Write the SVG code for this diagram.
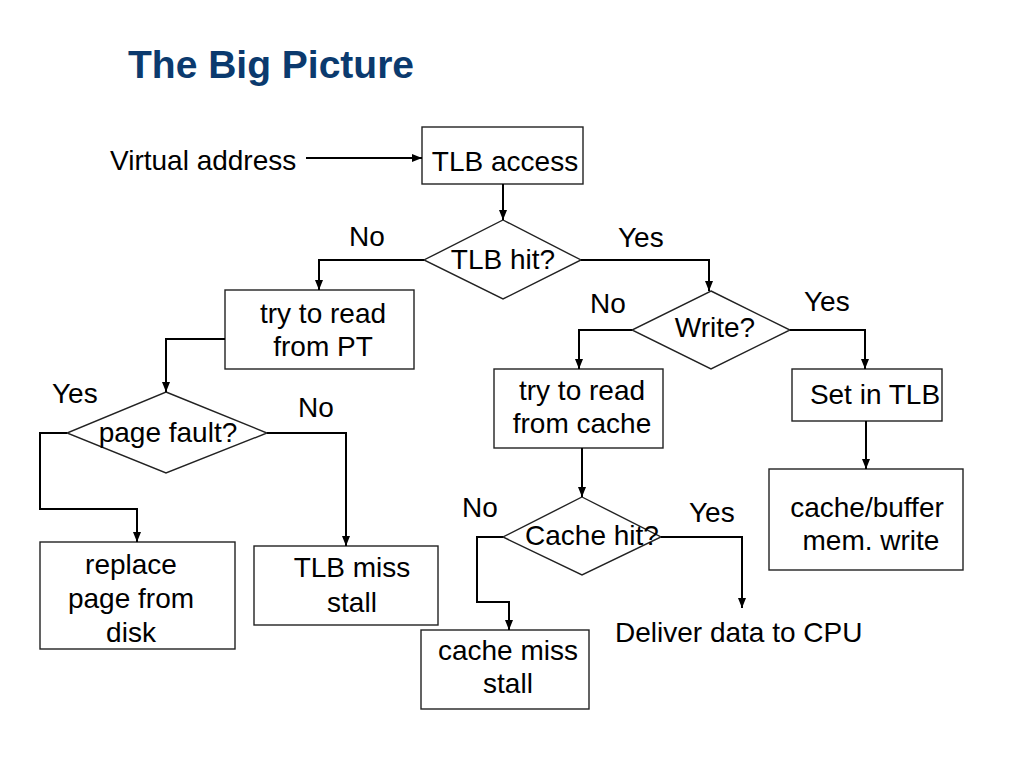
<svg xmlns="http://www.w3.org/2000/svg" width="1024" height="768" viewBox="0 0 1024 768">
<style>
.box{fill:#fff;stroke:#222;stroke-width:1.4}
.t{font-family:"Liberation Sans",Arial,sans-serif;font-size:28px;fill:#000}
.c{text-anchor:middle}
.ln{fill:none;stroke:#000;stroke-width:2}
.title{font-family:"Liberation Sans",Arial,sans-serif;font-size:39px;font-weight:bold;fill:#0B3A6E}
</style>
<defs>
<marker id="ah" markerUnits="userSpaceOnUse" markerWidth="10" markerHeight="10" viewBox="0 0 10 10" refX="10" refY="5" orient="auto">
<path d="M0,1 L10,5 L0,9 Z" fill="#000"/>
</marker>
</defs>
<rect width="1024" height="768" fill="#fff"/>
<text class="title" x="128" y="78">The Big Picture</text>
<g id="virtual-address"><text class="t" x="110" y="170">Virtual address</text></g>
<g id="tlb-access"><rect class="box" x="422" y="127" width="161" height="57"/><text class="t c" x="505" y="171">TLB access</text></g>
<g id="tlb-hit"><polygon class="box" points="503,220 581,260 503,299 424,260"/><text class="t c" x="503" y="269">TLB hit?</text></g>
<g id="read-pt"><rect class="box" x="225" y="290" width="189" height="79"/><text class="t c" x="323" y="323">try to read</text><text class="t c" x="323" y="356">from PT</text></g>
<g id="page-fault"><polygon class="box" points="166,392 267,433 166,473 67,433"/><text class="t c" x="168" y="442">page fault?</text></g>
<g id="replace-page"><rect class="box" x="40" y="542" width="195" height="107"/><text class="t c" x="131" y="574">replace</text><text class="t c" x="131" y="608">page from</text><text class="t c" x="131" y="642">disk</text></g>
<g id="tlb-miss"><rect class="box" x="254" y="546" width="184" height="79"/><text class="t c" x="352" y="577">TLB miss</text><text class="t c" x="352" y="612">stall</text></g>
<g id="write"><polygon class="box" points="711,291 790,330 711,369 632,330"/><text class="t c" x="715" y="337">Write?</text></g>
<g id="read-cache"><rect class="box" x="494" y="369" width="169" height="79"/><text class="t c" x="582" y="400">try to read</text><text class="t c" x="582" y="433">from cache</text></g>
<g id="set-tlb"><rect class="box" x="792" y="369" width="150" height="52"/><text class="t c" x="875" y="404">Set in TLB</text></g>
<g id="cache-buffer"><rect class="box" x="769" y="469" width="194" height="101"/><text class="t c" x="867" y="517">cache/buffer</text><text class="t c" x="871" y="550">mem. write</text></g>
<g id="cache-hit"><polygon class="box" points="582,497 661,537 582,575 503,537"/><text class="t c" x="592" y="545">Cache hit?</text></g>
<g id="cache-miss"><rect class="box" x="421" y="630" width="168" height="79"/><text class="t c" x="508" y="660">cache miss</text><text class="t c" x="508" y="693">stall</text></g>
<g id="deliver"><text class="t" x="615" y="642">Deliver data to CPU</text></g>
<g id="connectors">
<path class="ln" d="M306,158 H422" marker-end="url(#ah)"/>
<path class="ln" d="M503,184 V220" marker-end="url(#ah)"/>
<path class="ln" d="M424,260 H319 V290" marker-end="url(#ah)"/>
<path class="ln" d="M581,260 H709 V291" marker-end="url(#ah)"/>
<path class="ln" d="M225,339 H166 V392" marker-end="url(#ah)"/>
<path class="ln" d="M67,433 H40 V509 H137 V542" marker-end="url(#ah)"/>
<path class="ln" d="M267,433 H346 V546" marker-end="url(#ah)"/>
<path class="ln" d="M632,330 H579 V369" marker-end="url(#ah)"/>
<path class="ln" d="M790,330 H865 V369" marker-end="url(#ah)"/>
<path class="ln" d="M866,421 V469" marker-end="url(#ah)"/>
<path class="ln" d="M582,448 V497" marker-end="url(#ah)"/>
<path class="ln" d="M503,537 H477 V602 H509 V630" marker-end="url(#ah)"/>
<path class="ln" d="M661,537 H742 V608" marker-end="url(#ah)"/>
<text class="t" x="349" y="246">No</text>
<text class="t" x="618" y="247">Yes</text>
<text class="t" x="52" y="403">Yes</text>
<text class="t" x="298" y="417">No</text>
<text class="t" x="590" y="313">No</text>
<text class="t" x="804" y="311">Yes</text>
<text class="t" x="462" y="517">No</text>
<text class="t" x="689" y="522">Yes</text>
</g>
</svg>
